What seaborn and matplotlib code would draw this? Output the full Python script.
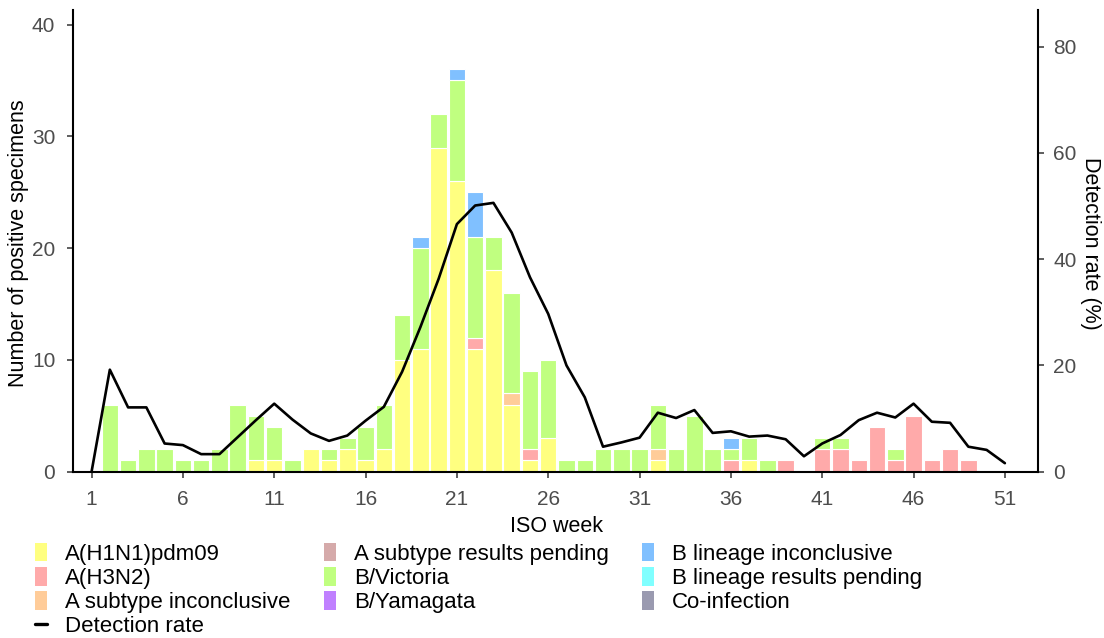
import numpy as np
import pandas as pd
import matplotlib
matplotlib.use("Agg")
import matplotlib.pyplot as plt
from matplotlib.patches import Patch
from matplotlib.lines import Line2D
import seaborn as sns

# ISO weeks 1..52
weeks = list(range(1, 53))

categories = ["A(H1N1)pdm09", "A(H3N2)", "A subtype inconclusive",
              "A subtype results pending", "B/Victoria", "B/Yamagata",
              "B lineage inconclusive", "B lineage results pending", "Co-infection"]
colors = ["#FFFF80", "#FFAAAA", "#FFCC99", "#D5AAAA", "#C0FF80", "#C080FF",
          "#80C0FF", "#80FFFF", "#9A9AB0"]

# counts per week (weeks 1..52)
h1n1 = [0, 0, 0, 0, 0, 0, 0, 0, 0, 1,
        1, 0, 2, 1, 2, 1, 2, 10, 11, 29,
        26, 11, 18, 6, 1, 3, 0, 0, 0, 0,
        0, 1, 0, 0, 0, 0, 1, 0, 0, 0,
        0, 0, 0, 0, 0, 0, 0, 0, 0, 0, 0, 0]
h3n2 = [0, 0, 0, 0, 0, 0, 0, 0, 0, 0,
        0, 0, 0, 0, 0, 0, 0, 0, 0, 0,
        0, 1, 0, 0, 1, 0, 0, 0, 0, 0,
        0, 0, 0, 0, 0, 1, 0, 0, 1, 0,
        2, 2, 1, 4, 1, 5, 1, 2, 1, 0, 0, 0]
a_inconclusive = [0] * 23 + [1] + [0] * 7 + [1] + [0] * 20
a_pending = [0] * 52
victoria = [0, 6, 1, 2, 2, 1, 1, 2, 6, 4,
            3, 1, 0, 1, 1, 3, 4, 4, 9, 3,
            9, 9, 3, 9, 7, 7, 1, 1, 2, 2,
            2, 4, 2, 5, 2, 1, 2, 1, 0, 0,
            1, 1, 0, 0, 1, 0, 0, 0, 0, 0, 0, 0]
yamagata = [0] * 52
b_inconclusive = [0, 0, 0, 0, 0, 0, 0, 0, 0, 0,
                  0, 0, 0, 0, 0, 0, 0, 0, 1, 0,
                  1, 4, 0, 0, 0, 0, 0, 0, 0, 0,
                  0, 0, 0, 0, 0, 1, 0, 0, 0, 0,
                  0, 0, 0, 0, 0, 0, 0, 0, 0, 0, 0, 0]
b_pending = [0] * 52
coinfection = [0] * 52

# detection rate (%) weeks 1..51
rate_weeks = list(range(1, 52))
detection_rate = [0, 19.2, 12.1, 12.1, 5.3, 5.0, 3.3, 3.3, 6.5, 9.7,
                  12.8, 9.8, 7.2, 5.8, 6.8, 9.6, 12.2, 18.8, 27.2, 36.3,
                  46.6, 50.1, 50.6, 45.0, 36.6, 29.7, 20.0, 14.0, 4.7, 5.5,
                  6.4, 11.1, 10.1, 11.6, 7.3, 7.6, 6.6, 6.8, 6.1, 2.9,
                  5.3, 6.9, 9.7, 11.1, 10.2, 12.8, 9.4, 9.2, 4.7, 4.1, 1.6]

series = [h1n1, h3n2, a_inconclusive, a_pending, victoria, yamagata,
          b_inconclusive, b_pending, coinfection]

sns.set_theme(style="ticks")
plt.rcParams["font.family"] = ["Liberation Sans", "DejaVu Sans"]

fs_tick = 15
fs_title = 15.5
fs_leg = 16

fig = plt.figure(figsize=(11.04, 6.38), dpi=100)
ax = fig.add_axes([0.0664, 0.2607, 0.94 - 0.0664, 0.9843 - 0.2607])

w = np.array(weeks)
bottom = np.zeros(len(weeks))
for vals, col in zip(series, colors):
    v = np.array(vals, dtype=float)
    m = v > 0
    if m.any():
        ax.bar(w[m], v[m], bottom=bottom[m], width=0.9, color=col,
               edgecolor="white", linewidth=0.8, zorder=2)
    bottom += v

ax.set_xlim(0, 52.8)
ax.set_ylim(0, 41.3)
ax.set_xticks(range(1, 52, 5))
ax.set_yticks(range(0, 41, 10))

ax2 = ax.twinx()
df_rate = pd.DataFrame({"week": rate_weeks, "rate": detection_rate})
sns.lineplot(data=df_rate, x="week", y="rate", ax=ax2, color="black",
             linewidth=1.9)
ax2.set_ylim(0, 86.9)
ax2.set_yticks(range(0, 81, 20))
ax2.set_xlim(0, 52.8)

for a in (ax, ax2):
    a.set_xlabel("")
    a.set_ylabel("")
    a.spines["top"].set_visible(False)
    for s in a.spines.values():
        s.set_linewidth(1.5)
        s.set_color("black")
    a.tick_params(labelsize=fs_tick, labelcolor="#4D4D4D", color="#333333",
                  length=4, width=1.1, pad=7)
ax.tick_params(axis="x", pad=9)
ax.tick_params(axis="y", pad=9)
ax.spines["right"].set_visible(False)
ax2.spines["left"].set_visible(False)
ax2.spines["bottom"].set_visible(False)

fig.text(19 / 1104, 1 - 243 / 638, "Number of positive specimens",
         rotation=90, ha="center", va="center", fontsize=fs_title, color="black")
fig.text(1090 / 1104, 1 - 243 / 638, "Detection rate (%)",
         rotation=270, ha="center", va="center", fontsize=fs_title, color="black")
fig.text(556 / 1104, 1 - 527 / 638, "ISO week", ha="center", va="center",
         fontsize=fs_title, color="black")

handles = [Patch(facecolor=c, edgecolor="none") for c in colors]
labels = list(categories)
handles.insert(3, Line2D([0], [0], color="black", linewidth=2.4))
labels.insert(3, "Detection rate")
leg = fig.legend(handles, labels, ncol=3, loc="upper left",
                 bbox_to_anchor=(35 / 1104, 1 - 543 / 638), frameon=False,
                 fontsize=fs_leg, handlelength=0.55, handleheight=0.9,
                 handletextpad=0.8, columnspacing=1.5, labelspacing=0.1,
                 borderpad=0, borderaxespad=0)
for t in leg.get_texts():
    t.set_color("black")

fig.savefig("out.png", dpi=100)
